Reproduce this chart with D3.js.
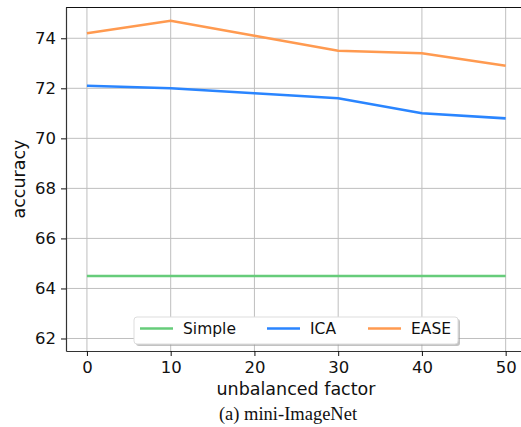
<!DOCTYPE html>
<html>
<head>
<meta charset="utf-8">
<script src="https://cdn.jsdelivr.net/npm/d3@7"></script>
<style>
  body { margin: 0; background: #fff; }
  svg { display: block; }
  .axis text { font-family: "DejaVu Sans", sans-serif; font-size: 16.5px; fill: #111; }
</style>
</head>
<body>
<script>
// Data
const factors = [0, 10, 20, 30, 40, 50];
const simpleAcc = [64.5, 64.5, 64.5, 64.5, 64.5, 64.5];
const icaAcc = [72.1, 72.0, 71.8, 71.6, 71.0, 70.8];
const easeAcc = [74.2, 74.7, 74.1, 73.5, 73.4, 72.9];
const xTicks = [0, 10, 20, 30, 40, 50];
const yTicks = [62, 64, 66, 68, 70, 72, 74];
const seriesNames = ['Simple', 'ICA', 'EASE'];
const seriesColors = ['#66cc7a', '#2a85ff', '#ff9a50'];

const width = 521;
const height = 427;
const plot = {left: 66, top: 7, right: 526.6, bottom: 351};

const svg = d3.select('body')
  .append('svg')
  .attr('width', width)
  .attr('height', height);

// Scales
const xScale = d3.scaleLinear()
  .domain([-2.5, 52.5])
  .range([plot.left, plot.right]);

const yScale = d3.scaleLinear()
  .domain([61.5, 75.25])
  .range([plot.bottom, plot.top]);

// Grid
const grid = svg.append('g').attr('stroke', '#b0b0b0').attr('stroke-width', 1).attr('opacity', 0.8);
grid.selectAll('line.gx')
  .data(xTicks)
  .enter().append('line')
  .attr('x1', d => xScale(d)).attr('x2', d => xScale(d))
  .attr('y1', plot.top).attr('y2', plot.bottom);
grid.selectAll('line.gy')
  .data(yTicks)
  .enter().append('line')
  .attr('x1', plot.left).attr('x2', plot.right)
  .attr('y1', d => yScale(d)).attr('y2', d => yScale(d));

// Lines
const series = [simpleAcc, icaAcc, easeAcc];
const line = d3.line()
  .x((d, i) => xScale(factors[i]))
  .y(d => yScale(d));

svg.append('g')
  .selectAll('path')
  .data(series)
  .enter().append('path')
  .attr('fill', 'none')
  .attr('stroke', (d, i) => seriesColors[i])
  .attr('stroke-width', 2.6)
  .attr('d', d => line(d));

// Spines
svg.append('line')
  .attr('x1', plot.left).attr('x2', plot.right)
  .attr('y1', plot.top + 0.5).attr('y2', plot.top + 0.5)
  .attr('stroke', '#111').attr('stroke-width', 1.2);

// Axes
const xAxis = d3.axisBottom(xScale).tickValues(xTicks).tickSize(5).tickSizeOuter(0).tickPadding(5);
svg.append('g')
  .classed('axis', true)
  .attr('transform', 'translate(0,' + plot.bottom + ')')
  .call(xAxis)
  .call(g => g.select('.domain').attr('stroke', '#333').attr('stroke-width', 1.2))
  .call(g => g.selectAll('.tick line').attr('stroke', '#111'));

const yAxis = d3.axisLeft(yScale).tickValues(yTicks).tickSize(5).tickSizeOuter(0).tickPadding(5);
svg.append('g')
  .classed('axis', true)
  .attr('transform', 'translate(' + plot.left + ',0)')
  .call(yAxis)
  .call(g => g.select('.domain').attr('stroke', '#333').attr('stroke-width', 1.2))
  .call(g => g.selectAll('.tick line').attr('stroke', '#111'));

// Axis labels
svg.append('text')
  .attr('x', 296)
  .attr('y', 395)
  .attr('text-anchor', 'middle')
  .attr('font-family', '"DejaVu Sans", sans-serif')
  .attr('font-size', 17.5)
  .attr('fill', '#111')
  .text('unbalanced factor');

svg.append('text')
  .attr('transform', 'translate(25,' + ((plot.top + plot.bottom) / 2) + ') rotate(-90)')
  .attr('text-anchor', 'middle')
  .attr('font-family', '"DejaVu Sans", sans-serif')
  .attr('font-size', 17.5)
  .attr('fill', '#111')
  .text('accuracy');

// Caption
svg.append('text')
  .attr('x', 288)
  .attr('y', 420)
  .attr('text-anchor', 'middle')
  .attr('font-family', '"Liberation Serif", "Times New Roman", serif')
  .attr('font-size', 18.5)
  .attr('fill', '#111')
  .text('(a) mini-ImageNet');

// Legend
const legend = svg.append('g').attr('transform', 'translate(134,317)');
legend.append('rect')
  .attr('x', 2).attr('y', 2).attr('width', 324).attr('height', 27).attr('rx', 3)
  .attr('fill', '#999').attr('opacity', 0.6);
legend.append('rect')
  .attr('x', 0).attr('y', 0).attr('width', 324).attr('height', 27).attr('rx', 3)
  .attr('fill', '#fff').attr('stroke', '#ddd');
const legendX = [6, 133, 234];
const items = legend.selectAll('g.item')
  .data(seriesNames)
  .enter().append('g')
  .attr('transform', (d, i) => 'translate(' + legendX[i] + ',11.5)');
items.append('line')
  .attr('x1', 0).attr('x2', 33)
  .attr('stroke', (d, i) => seriesColors[i])
  .attr('stroke-width', 2.6);
items.append('text')
  .attr('x', 43).attr('y', 5.5)
  .attr('font-family', '"DejaVu Sans", sans-serif')
  .attr('font-size', 15.5)
  .attr('fill', '#111')
  .text(d => d);
</script>
</body>
</html>
